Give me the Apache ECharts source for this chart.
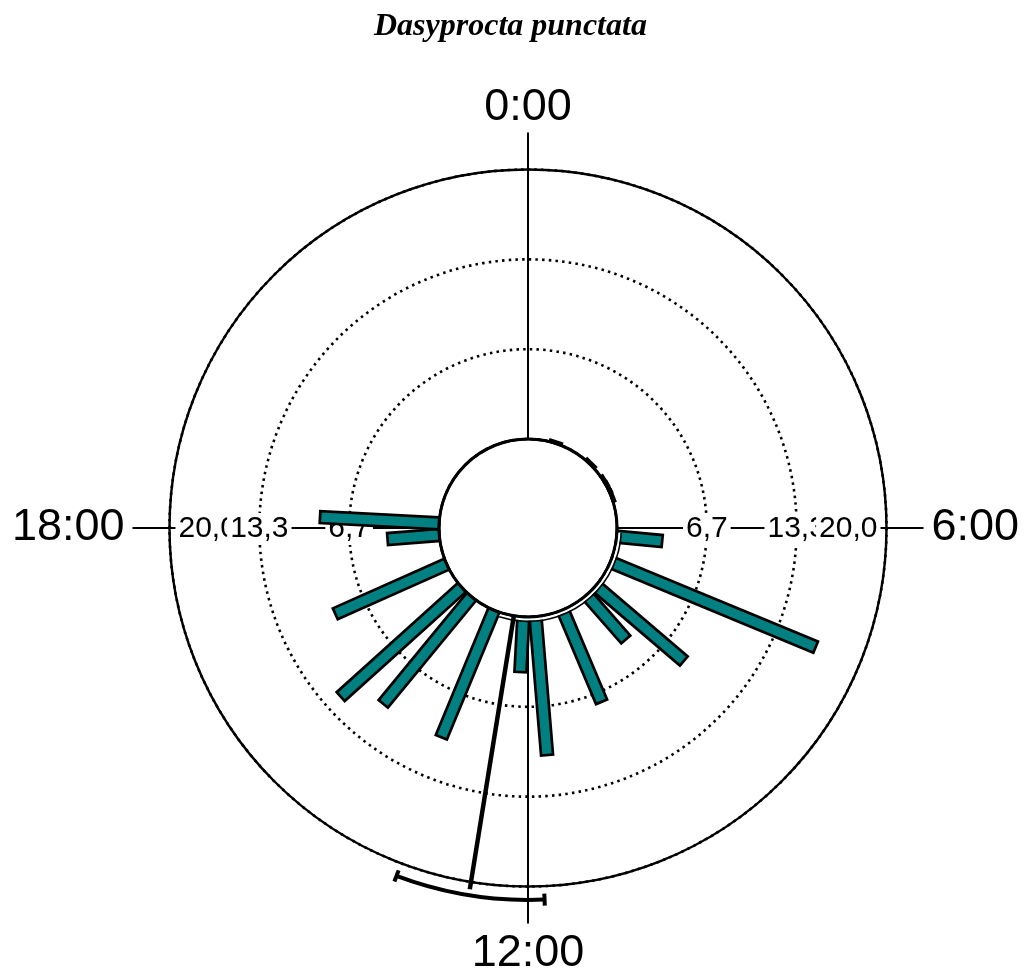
<!DOCTYPE html>
<html>
<head>
<meta charset="utf-8">
<script src="https://cdn.jsdelivr.net/npm/echarts@6/dist/echarts.min.js"></script>
<style>
  html, body { margin: 0; padding: 0; background: #ffffff; }
  #chart { width: 1029px; height: 975px; }
</style>
</head>
<body>
<div id="chart"></div>
<script>
// Activity of Dasyprocta punctata over the 24-hour clock (records per time bin, %)
const binHours  = [1.2, 2.95, 3.9, 4.2, 4.6, 6.37, 7.5, 8.7, 9.25, 10.47, 11.68, 12.2, 13.5, 14.63, 15.2, 16.4, 17.7, 18.2];
const binCounts = [0.15, 0.15, 0.15, 0.15, 0.15, 3.4, 16.5, 8.6, 4.4, 7.4, 10.3, 4.1, 10.2, 10.3, 12.1, 9.05, 3.85, 8.85];

// radial scale ticks and their printed labels
const radiusTicks = [6.667, 13.333, 20];
const radiusTickLabels = ['6,7', '13,3', '20,0'];

// clock-face ticks
const hourTicks = [0, 6, 12, 18];
const hourTickLabels = ['0:00', '6:00', '12:00', '18:00'];

// mean vector and its confidence interval
const meanHour = 12.61;
const meanLength = 20.55;
const ciHours = [11.83, 13.38];
const ciRadius = 21.0;

// thin arc hugging the inner ring
const baseArcHours = [6.2, 13.2];

const TEAL = '#008080';
const FONT = '"Liberation Sans", Arial, sans-serif';

const chart = echarts.init(document.getElementById('chart'), null, { renderer: 'canvas' });

function dirOf(cs, p) {
  const dx = p[0] - cs.cx, dy = p[1] - cs.cy;
  const L = Math.hypot(dx, dy) || 1;
  return [dx / L, dy / L];
}

// axis spokes through 0, 6, 12 and 18 h
function renderSpoke(params, api) {
  const cs = params.coordSys;
  const h = api.value(0);
  const p0 = api.coord([0, h]);
  const pOut = api.coord([20, h]);
  const d = dirOf(cs, pOut);
  const ext = 37;
  return {
    type: 'line',
    shape: { x1: p0[0], y1: p0[1], x2: pOut[0] + d[0] * ext, y2: pOut[1] + d[1] * ext },
    style: { stroke: '#000', lineWidth: 2 }
  };
}

// hour labels outside the ring
function renderHourLabel(params, api) {
  const cs = params.coordSys;
  const i = params.dataIndex;
  const h = api.value(0);
  const pOut = api.coord([20, h]);
  const d = dirOf(cs, pOut);
  let off = 45;
  let align = 'center', va = 'middle';
  if (d[0] > 0.5) align = 'left';
  else if (d[0] < -0.5) align = 'right';
  else if (d[1] < 0) { va = 'bottom'; off = 39; }
  else va = 'top';
  const x = pOut[0] + d[0] * off, y = pOut[1] + d[1] * off;
  return {
    type: 'text',
    style: { text: hourTickLabels[i], x: x, y: y, align: align, verticalAlign: va, fill: '#000', font: '45px ' + FONT }
  };
}

// radial tick labels drawn on the horizontal spoke, left to right
function renderRadiusLabel(params, api) {
  const cs = params.coordSys;
  const idx = api.value(0);
  const h = api.value(1);
  const v = radiusTicks[idx];
  const p = api.coord([v, h]);
  const d = dirOf(cs, p);
  let x = p[0], align = 'center';
  if (idx === radiusTicks.length - 1) {
    if (d[0] > 0) { align = 'right'; x = p[0] - 6; }
    else { align = 'left'; x = p[0] + 6; }
  }
  return {
    type: 'text',
    z2: params.dataIndex,
    style: {
      text: radiusTickLabels[idx], x: x, y: p[1] + 1, align: align, verticalAlign: 'middle',
      fill: '#000', font: '30px ' + FONT, backgroundColor: '#fff', padding: [1, 3, 1, 3]
    }
  };
}

// bars as constant-width rectangles pointing out from the inner ring
function renderBar(params, api) {
  const cs = params.coordSys;
  const h = api.value(0);
  const v = api.value(1);
  const p0 = api.coord([0, h]);
  const p1 = api.coord([v, h]);
  const d = dirOf(cs, api.coord([20, h]));
  const n = [-d[1], d[0]];
  const hw = 6;
  return {
    type: 'polygon',
    shape: {
      points: [
        [p0[0] + n[0] * hw, p0[1] + n[1] * hw],
        [p1[0] + n[0] * hw, p1[1] + n[1] * hw],
        [p1[0] - n[0] * hw, p1[1] - n[1] * hw],
        [p0[0] - n[0] * hw, p0[1] - n[1] * hw]
      ]
    },
    style: { fill: TEAL, stroke: '#000', lineWidth: 2.7, lineJoin: 'miter' }
  };
}

function angleAt(cs, p) {
  return Math.atan2(p[1] - cs.cy, p[0] - cs.cx);
}

// inner ring outline plus the thin arc just outside it
function renderBaseArc(params, api) {
  const cs = params.coordSys;
  const a0 = angleAt(cs, api.coord([0, api.value(0)]));
  const a1 = angleAt(cs, api.coord([0, api.value(1)]));
  return {
    type: 'group',
    children: [
      { type: 'circle', shape: { cx: cs.cx, cy: cs.cy, r: cs.r0 },
        style: { stroke: '#000', lineWidth: 3, fill: null } },
      { type: 'arc', shape: { cx: cs.cx, cy: cs.cy, r: cs.r0 + 2.6, startAngle: a0, endAngle: a1, clockwise: true },
        style: { stroke: '#fff', lineWidth: 2, fill: null } },
      { type: 'arc', shape: { cx: cs.cx, cy: cs.cy, r: cs.r0 + 4.4, startAngle: a0, endAngle: a1, clockwise: true },
        style: { stroke: '#000', lineWidth: 1.5, fill: null } }
    ]
  };
}

// mean vector
function renderMean(params, api) {
  const h = api.value(0);
  const len = api.value(1);
  const p0 = api.coord([0, h]);
  const p1 = api.coord([len, h]);
  return {
    type: 'line',
    shape: { x1: p0[0], y1: p0[1], x2: p1[0], y2: p1[1] },
    style: { stroke: '#000', lineWidth: 4.5, lineCap: 'butt' }
  };
}

// confidence interval arc with radial end caps
function renderCI(params, api) {
  const cs = params.coordSys;
  const h0 = api.value(0), h1 = api.value(1), rv = api.value(2);
  const pa = api.coord([rv, h0]);
  const pb = api.coord([rv, h1]);
  const r = Math.hypot(pa[0] - cs.cx, pa[1] - cs.cy);
  const a0 = angleAt(cs, pa), a1 = angleAt(cs, pb);
  const cap = 6;
  const da = dirOf(cs, pa), db = dirOf(cs, pb);
  return {
    type: 'group',
    children: [
      { type: 'arc', shape: { cx: cs.cx, cy: cs.cy, r: r, startAngle: a0, endAngle: a1, clockwise: true },
        style: { stroke: '#000', lineWidth: 4, fill: null } },
      { type: 'line', shape: { x1: pa[0] - da[0] * cap, y1: pa[1] - da[1] * cap, x2: pa[0] + da[0] * cap, y2: pa[1] + da[1] * cap },
        style: { stroke: '#000', lineWidth: 4 } },
      { type: 'line', shape: { x1: pb[0] - db[0] * cap, y1: pb[1] - db[1] * cap, x2: pb[0] + db[0] * cap, y2: pb[1] + db[1] * cap },
        style: { stroke: '#000', lineWidth: 4 } }
    ]
  };
}

const radiusLabelData = [];
[18, 6].forEach(function (side) {
  const order = side === 18 ? [2, 1, 0] : [0, 1, 2];
  order.forEach(function (i) { radiusLabelData.push([i, side]); });
});

chart.setOption({
  animation: false,
  backgroundColor: '#ffffff',
  title: {
    text: 'Dasyprocta punctata',
    left: 369,
    top: 6,
    textStyle: {
      fontFamily: '"Liberation Serif", "Times New Roman", serif',
      fontStyle: 'italic',
      fontWeight: 'bold',
      fontSize: 32,
      color: '#000'
    }
  },
  polar: { center: [528, 528], radius: [89, 358.5] },
  angleAxis: {
    type: 'value', min: 0, max: 24, startAngle: 90, clockwise: true, z: 1,
    axisLine: { show: true, lineStyle: { color: '#000', width: 2.4 } },
    axisTick: { show: false }, axisLabel: { show: false }, splitLine: { show: false }
  },
  radiusAxis: {
    type: 'value', min: 0, max: 20, interval: 20 / 3, z: 0,
    axisLine: { show: false }, axisTick: { show: false }, axisLabel: { show: false },
    splitLine: { show: true, lineStyle: { color: '#000', width: 2.6, type: [2.5, 4.2] } }
  },
  series: [
    { type: 'custom', coordinateSystem: 'polar', z: 1, silent: true,
      data: hourTicks.map(function (h) { return [h, 0]; }), renderItem: renderSpoke },
    { type: 'custom', coordinateSystem: 'polar', z: 3, silent: true,
      data: radiusLabelData, renderItem: renderRadiusLabel },
    { type: 'custom', coordinateSystem: 'polar', z: 3, silent: true,
      data: hourTicks.map(function (h) { return [h, 0]; }), renderItem: renderHourLabel },
    { type: 'custom', coordinateSystem: 'polar', z: 4, silent: true,
      data: binHours.map(function (h, i) { return [h, binCounts[i]]; }), renderItem: renderBar },
    { type: 'custom', coordinateSystem: 'polar', z: 5, silent: true,
      data: [baseArcHours], renderItem: renderBaseArc },
    { type: 'custom', coordinateSystem: 'polar', z: 6, silent: true,
      data: [[meanHour, meanLength]], renderItem: renderMean },
    { type: 'custom', coordinateSystem: 'polar', z: 6, silent: true,
      data: [[ciHours[0], ciHours[1], ciRadius]], renderItem: renderCI }
  ]
});
</script>
</body>
</html>
